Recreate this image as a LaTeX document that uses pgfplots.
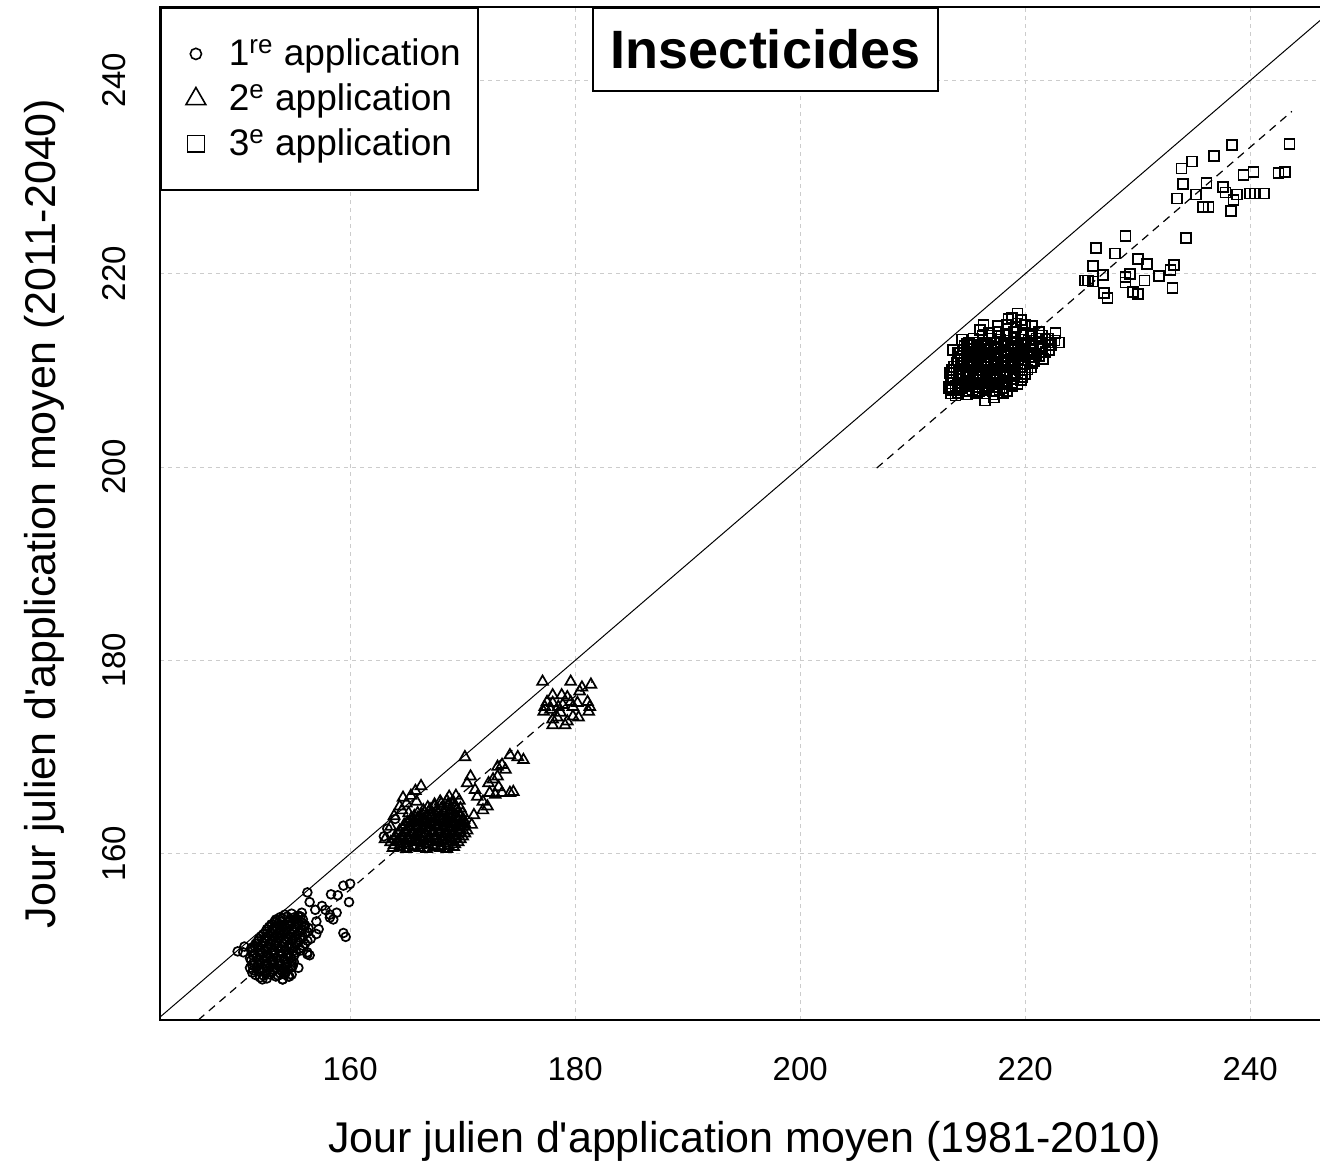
\documentclass[border=0pt]{standalone}
\usepackage{pgfplots}
\pgfplotsset{compat=1.18}
\usepackage{fontspec}
\setmainfont{Liberation Sans}
\begin{document}
\begin{tikzpicture}
\begin{axis}[
 name=ax,
 scale only axis,
 width=580pt, height=506.5pt,
 xmin=143.1, xmax=246.2, ymin=142.8, ymax=247.6,
 axis line style={draw=none},
 xtick={160,180,...,240}, ytick={160,180,...,240},
 major tick length=0pt,
 grid=major,
 major grid style={gray!40, line width=0.6pt, dash pattern=on 2pt off 2pt},
 /pgf/number format/assume math mode=true,
 ticklabel style={font=\fontsize{16.5}{19}\selectfont},
 xticklabel style={yshift=-15pt},
 yticklabel style={rotate=90, anchor=south, inner sep=0pt},
 yticklabel shift=17pt,
 xlabel={Jour julien d\textquotesingle application moyen (1981-2010)},
 ylabel={Jour julien d\textquotesingle application moyen (2011-2040)},
 xlabel style={at={(axis description cs:0.504,-0.131)}, anchor=base, font=\fontsize{21.5}{24}\selectfont},
 ylabel style={at={(axis description cs:-0.0905,0.5)}, anchor=base, font=\fontsize{21.5}{24}\selectfont},
 legend style={at={(rel axis cs:0,1)}, anchor=north west, draw=black, line width=0.9pt, fill=white,
   inner xsep=8.5pt, inner ysep=12pt, row sep=0.5pt,
   font=\fontsize{18.5}{22}\selectfont, cells={anchor=west},
   nodes={inner sep=0pt, text height=17pt, text depth=5pt}},
 legend image code/.code={\path[draw=none,fill=none] (-9pt,0) -- (16.5pt,0); \draw[#1] plot coordinates {(0pt,0pt)};},
]
% 1:1 line and regression lines
\addplot[black, line width=0.5pt, forget plot] coordinates {(143.1,143.1) (247.6,247.6)};
\addplot[black, line width=0.6pt, dash pattern=on 4pt off 3pt, forget plot] coordinates {(146.5,142.8) (181.5,177.8)};
\addplot[black, line width=0.6pt, dash pattern=on 4pt off 3pt, forget plot] coordinates {(206.8,199.9) (243.7,236.8)};

% legend images
\addlegendimage{only marks, mark=o, mark size=2.8pt, line width=0.8pt, black}
\addlegendentry{1\textsuperscript{re} application}
\addlegendimage{only marks, mark=triangle, mark size=5.7pt, line width=0.8pt, black}
\addlegendentry{2\textsuperscript{e} application}
\addlegendimage{only marks, mark=square, mark size=4.2pt, line width=0.8pt, black}
\addlegendentry{3\textsuperscript{e} application}

% 1re application
\addplot[only marks, mark=o, mark size=2.2pt, line width=0.85pt, black, forget plot] coordinates {
(152.0,147.2)(152.6,147.1)(153.4,147.3)(154.0,147.0)(154.6,147.3)
(151.3,147.7)(151.9,147.8)(152.5,147.6)(153.1,147.8)(153.8,147.6)(154.3,147.8)
(151.1,148.2)(151.7,148.3)(152.3,148.1)(152.9,148.3)(153.5,148.2)(154.1,148.1)(154.8,148.3)
(151.4,148.7)(152.0,148.8)(152.6,148.6)(153.2,148.8)(153.8,148.7)(154.4,148.6)(155.0,148.8)
(151.1,149.2)(151.7,149.3)(152.3,149.1)(152.9,149.3)(153.5,149.2)(154.1,149.1)(154.7,149.3)
(151.5,149.7)(152.1,149.8)(152.7,149.6)(153.3,149.8)(153.9,149.7)(154.5,149.6)(155.2,149.8)(156.2,149.6)
(151.2,150.2)(151.8,150.3)(152.4,150.1)(153.0,150.3)(153.6,150.2)(154.2,150.1)(154.8,150.3)(155.5,150.2)
(151.6,150.7)(152.2,150.8)(152.8,150.6)(153.4,150.8)(154.0,150.7)(154.6,150.6)(155.2,150.8)(156.0,150.7)
(151.9,151.2)(152.5,151.3)(153.1,151.1)(153.7,151.3)(154.3,151.2)(154.9,151.1)(155.6,151.3)(156.5,151.2)
(152.3,151.7)(152.9,151.8)(153.5,151.6)(154.1,151.8)(154.7,151.7)(155.3,151.6)(156.0,151.8)(157.0,151.7)
(152.6,152.2)(153.2,152.3)(153.8,152.1)(154.4,152.3)(155.0,152.2)(155.7,152.1)(156.3,152.3)
(153.0,152.7)(153.6,152.8)(154.2,152.6)(154.8,152.8)(155.4,152.7)(156.0,152.6)
(153.4,153.2)(154.0,153.3)(154.6,153.1)(155.2,153.3)(155.8,153.2)
(154.2,153.7)(154.8,153.8)(155.4,153.6)
(151.6,147.45)(152.3,147.4)(152.9,147.5)(153.6,147.4)(154.2,147.5)
(151.4,147.95)(152.0,148.0)(152.6,147.9)(153.2,148.0)(153.9,147.9)(154.5,148.0)
(151.3,148.45)(151.9,148.5)(152.5,148.4)(153.1,148.5)(153.7,148.4)(154.3,148.5)(154.9,148.4)
(151.2,148.95)(151.8,149.0)(152.4,148.9)(153.0,149.0)(153.6,148.9)(154.2,149.0)(154.8,148.9)
(151.4,149.45)(152.0,149.5)(152.6,149.4)(153.2,149.5)(153.8,149.4)(154.4,149.5)(155.0,149.4)
(151.3,149.95)(151.9,150.0)(152.5,149.9)(153.1,150.0)(153.7,149.9)(154.3,150.0)(154.9,149.9)(155.6,150.0)
(151.5,150.45)(152.1,150.5)(152.7,150.4)(153.3,150.5)(153.9,150.4)(154.5,150.5)(155.1,150.4)(155.8,150.5)
(151.8,150.95)(152.4,151.0)(153.0,150.9)(153.6,151.0)(154.2,150.9)(154.8,151.0)(155.4,150.9)(156.2,151.0)
(152.1,151.45)(152.7,151.5)(153.3,151.4)(153.9,151.5)(154.5,151.4)(155.1,151.5)(155.8,151.4)
(152.5,151.95)(153.1,152.0)(153.7,151.9)(154.3,152.0)(154.9,151.9)(155.5,152.0)(156.2,151.9)
(152.8,152.45)(153.4,152.5)(154.0,152.4)(154.6,152.5)(155.2,152.4)(155.9,152.5)
(153.3,152.95)(153.9,153.0)(154.5,152.9)(155.1,153.0)(155.7,152.9)
(153.8,153.45)(154.4,153.5)(155.0,153.4)(155.6,153.5)
(156.2,156.0)(159.4,156.7)(160.0,156.9)(158.3,155.8)(158.9,155.7)(159.9,155.0)(156.4,155.0)
(156.9,154.2)(157.8,154.2)(158.2,153.7)(158.8,153.9)(158.5,153.2)(158.2,153.4)(157.2,152.2)
(159.4,151.8)(159.6,151.4)(155.7,153.9)(155.4,153.5)(153.3,153.0)(156.2,149.8)(156.4,149.5)
(151.3,150.3)(152.2,147.0)(154.0,147.0)(154.5,147.3)(154.8,147.5)(155.4,148.2)(150.0,149.9)
(150.5,149.8)(150.6,150.4)(157.5,154.6)(157.0,153.0)
(163.0,161.8)(163.3,162.6)(164.0,163.6)
};

% 2e application
\addplot[only marks, mark=triangle, mark size=3.1pt, line width=0.85pt, black, forget plot] coordinates {
(163.8,160.6)(164.4,160.7)(165.0,160.5)(165.6,160.7)(166.2,160.6)(166.8,160.5)(167.4,160.7)(168.0,160.6)(168.6,160.5)(169.2,160.7)
(163.6,161.2)(164.2,161.3)(164.8,161.1)(165.4,161.3)(166.0,161.2)(166.6,161.1)(167.2,161.3)(167.8,161.2)(168.4,161.1)(169.0,161.3)(169.6,161.2)
(164.0,161.8)(164.6,161.9)(165.2,161.7)(165.8,161.9)(166.4,161.8)(167.0,161.7)(167.6,161.9)(168.2,161.8)(168.8,161.7)(169.4,161.9)(170.0,161.8)
(164.4,162.4)(165.0,162.5)(165.6,162.3)(166.2,162.5)(166.8,162.4)(167.4,162.3)(168.0,162.5)(168.6,162.4)(169.2,162.3)(169.8,162.5)(170.4,162.4)
(164.8,163.0)(165.4,163.1)(166.0,162.9)(166.6,163.1)(167.2,163.0)(167.8,162.9)(168.4,163.1)(169.0,163.0)(169.6,162.9)(170.2,163.1)
(165.4,163.6)(166.0,163.7)(166.6,163.5)(167.2,163.7)(167.8,163.6)(168.4,163.5)(169.0,163.7)(169.6,163.6)(170.1,163.5)
(166.0,164.2)(166.6,164.3)(167.2,164.1)(167.8,164.3)(168.4,164.2)(169.0,164.1)(169.6,164.3)(170.0,164.2)
(166.9,164.8)(167.5,164.9)(168.1,164.7)(168.7,164.9)(169.3,164.8)(169.8,164.7)
(168.0,165.4)(168.6,165.5)(169.2,165.3)(169.7,165.5)
(168.8,165.9)(169.4,166.0)
(163.9,160.9)(164.5,161.0)(165.1,160.9)(165.7,160.8)(166.3,160.9)(166.9,161.0)(167.5,160.9)(168.1,160.8)(168.7,160.9)(169.3,161.0)
(163.9,161.5)(164.5,161.6)(165.1,161.5)(165.7,161.4)(166.3,161.5)(166.9,161.6)(167.5,161.5)(168.1,161.4)(168.7,161.5)(169.3,161.6)(169.8,161.5)
(164.3,162.1)(164.9,162.2)(165.5,162.1)(166.1,162.0)(166.7,162.1)(167.3,162.2)(167.9,162.1)(168.5,162.0)(169.1,162.1)(169.7,162.2)(170.2,162.1)
(164.7,162.7)(165.3,162.8)(165.9,162.7)(166.5,162.6)(167.1,162.7)(167.7,162.8)(168.3,162.7)(168.9,162.6)(169.5,162.7)(170.1,162.8)
(165.1,163.3)(165.7,163.4)(166.3,163.3)(166.9,163.2)(167.5,163.3)(168.1,163.4)(168.7,163.3)(169.3,163.2)(169.9,163.3)
(165.7,163.9)(166.3,164.0)(166.9,163.9)(167.5,163.8)(168.1,163.9)(168.7,164.0)(169.3,163.9)(169.8,163.8)
(166.5,164.5)(167.1,164.6)(167.7,164.5)(168.3,164.4)(168.9,164.5)(169.5,164.6)
(167.5,165.1)(168.1,165.2)(168.7,165.1)(169.3,165.0)
(164.6,164.5)(165.0,165.2)(165.4,166.0)(165.8,166.5)(165.2,164.2)(165.9,165.4)(164.7,165.8)(166.3,167.0)
(163.6,162.8)(163.9,163.9)(164.4,164.9)(163.1,161.5)
(170.2,170.0)(170.7,168.0)(170.4,167.3)(171.1,166.6)(171.3,165.9)(171.8,165.4)(172.3,167.3)(172.7,167.7)
(173.1,168.0)(173.2,166.9)(173.5,166.3)(174.2,166.3)(174.5,166.4)(173.1,169.0)(173.5,169.2)(173.8,168.7)
(174.2,170.2)(174.9,170.0)(175.4,169.7)(172.4,166.3)(172.9,166.1)(172.2,164.9)(171.8,164.5)(170.8,163.0)(171.0,164.0)
(177.1,177.8)(179.6,177.8)(180.6,177.2)(181.4,177.5)(180.4,176.8)(178.0,176.4)(178.8,176.4)(179.3,176.2)
(177.5,175.7)(177.3,175.2)(178.0,175.6)(178.5,175.2)(178.9,175.4)(179.6,175.7)(179.8,175.2)(180.2,175.6)
(181.1,175.7)(181.3,175.2)(181.2,174.7)(177.2,174.7)(177.8,174.9)(178.7,174.6)(179.3,173.7)(178.4,174.1)
(178.0,173.9)(178.0,173.3)(179.1,173.3)(179.8,174.2)(180.3,174.1)
};

% 3e application
\addplot[only marks, mark=square, mark size=2.5pt, line width=0.85pt, black, forget plot] coordinates {
(213.4,207.6)(214.0,207.7)(214.8,207.5)(215.6,207.7)(216.4,207.6)(217.2,207.5)(218.0,207.7)
(213.2,208.3)(213.8,208.4)(214.4,208.2)(215.0,208.4)(215.6,208.3)(216.2,208.2)(216.8,208.4)(217.4,208.3)(218.0,208.2)(218.8,208.4)
(213.5,209.0)(214.1,209.1)(214.7,208.9)(215.3,209.1)(215.9,209.0)(216.5,208.9)(217.1,209.1)(217.7,209.0)(218.3,208.9)(218.9,209.1)(219.6,209.0)
(213.3,209.7)(213.9,209.8)(214.5,209.6)(215.1,209.8)(215.7,209.7)(216.3,209.6)(216.9,209.8)(217.5,209.7)(218.1,209.6)(218.7,209.8)(219.3,209.7)(220.0,209.6)
(213.7,210.4)(214.3,210.5)(214.9,210.3)(215.5,210.5)(216.1,210.4)(216.7,210.3)(217.3,210.5)(217.9,210.4)(218.5,210.3)(219.1,210.5)(219.7,210.4)(220.5,210.3)
(214.0,211.1)(214.6,211.2)(215.2,211.0)(215.8,211.2)(216.4,211.1)(217.0,211.0)(217.6,211.2)(218.2,211.1)(218.8,211.0)(219.4,211.2)(220.0,211.1)(220.8,211.0)(221.6,211.2)
(214.2,211.8)(214.8,211.9)(215.4,211.7)(216.0,211.9)(216.6,211.8)(217.2,211.7)(217.8,211.9)(218.4,211.8)(219.0,211.7)(219.6,211.9)(220.2,211.8)(221.0,211.7)(221.8,211.9)
(214.6,212.5)(215.2,212.6)(215.8,212.4)(216.4,212.6)(217.0,212.5)(217.6,212.4)(218.2,212.6)(218.8,212.5)(219.4,212.4)(220.0,212.6)(220.7,212.5)(221.5,212.4)(222.3,212.6)
(214.4,213.2)(215.4,213.3)(216.2,213.1)(217.0,213.3)(217.8,213.2)(218.4,213.1)(219.0,213.3)(219.6,213.2)(220.3,213.1)(221.0,213.3)(221.8,213.2)(222.6,213.1)
(216.8,213.9)(217.6,214.0)(218.3,213.8)(219.0,214.0)(219.8,213.9)(220.5,213.8)(221.2,214.0)
(217.6,214.6)(218.4,214.7)(219.2,214.5)(220.0,214.7)(220.6,214.6)
(218.5,215.3)(219.6,215.2)
(213.5,207.95)(214.1,208.0)(214.7,207.9)(215.3,208.0)(215.9,207.9)(216.5,208.0)(217.1,207.9)(217.7,208.0)(218.4,207.9)
(213.4,208.65)(214.0,208.7)(214.6,208.6)(215.2,208.7)(215.8,208.6)(216.4,208.7)(217.0,208.6)(217.6,208.7)(218.2,208.6)(218.8,208.7)(219.3,208.6)
(213.6,209.35)(214.2,209.4)(214.8,209.3)(215.4,209.4)(216.0,209.3)(216.6,209.4)(217.2,209.3)(217.8,209.4)(218.4,209.3)(219.0,209.4)(219.7,209.3)
(213.5,210.05)(214.1,210.1)(214.7,210.0)(215.3,210.1)(215.9,210.0)(216.5,210.1)(217.1,210.0)(217.7,210.1)(218.3,210.0)(218.9,210.1)(219.5,210.0)(220.2,210.1)
(213.9,210.75)(214.5,210.8)(215.1,210.7)(215.7,210.8)(216.3,210.7)(216.9,210.8)(217.5,210.7)(218.1,210.8)(218.7,210.7)(219.3,210.8)(219.9,210.7)(220.6,210.8)
(214.3,211.45)(214.9,211.5)(215.5,211.4)(216.1,211.5)(216.7,211.4)(217.3,211.5)(217.9,211.4)(218.5,211.5)(219.1,211.4)(219.7,211.5)(220.4,211.4)(221.2,211.5)
(214.5,212.15)(215.1,212.2)(215.7,212.1)(216.3,212.2)(216.9,212.1)(217.5,212.2)(218.1,212.1)(218.7,212.2)(219.3,212.1)(219.9,212.2)(220.6,212.1)(221.4,212.2)(222.1,212.1)
(215.0,212.85)(215.7,212.9)(216.3,212.8)(216.9,212.9)(217.5,212.8)(218.1,212.9)(218.7,212.8)(219.3,212.9)(219.9,212.8)(220.6,212.9)(221.3,212.8)(222.0,212.9)
(216.2,213.55)(217.0,213.6)(217.7,213.5)(218.4,213.6)(219.1,213.5)(219.8,213.6)(220.6,213.5)(221.5,213.6)
(216.4,206.9)(217.2,207.2)(215.7,207.8)(213.2,208.2)(213.8,207.4)(219.3,215.9)(218.8,215.4)
(222.7,213.9)(222.0,213.3)(223.0,212.9)(213.6,212.1)(214.0,211.8)(214.0,211.1)(216.0,214.2)(216.3,214.7)(214.8,212.8)
(238.4,233.3)(243.5,233.4)(236.8,232.2)(234.8,231.6)(233.9,230.9)(240.3,230.5)(239.4,230.2)(242.5,230.4)
(243.1,230.5)(234.0,229.3)(236.1,229.4)(237.6,229.0)(237.8,228.4)(235.2,228.2)(233.5,227.8)(238.8,228.2)
(238.5,227.6)(240.0,228.3)(240.4,228.3)(241.2,228.3)(235.8,226.9)(236.3,226.9)(238.3,226.5)(234.3,223.7)
(228.9,223.9)(226.3,222.7)(228.0,222.1)(230.0,221.5)(230.8,221.0)(226.0,220.8)(226.9,219.9)(229.3,220.0)
(228.9,219.7)(225.6,219.3)(226.0,219.2)(225.3,219.3)(233.2,220.9)(232.9,220.4)(231.9,219.8)(230.6,219.3)
(228.9,219.1)(229.6,218.1)(230.0,217.9)(227.0,218.0)(227.3,217.5)(233.1,218.5)
};
\end{axis}
\draw[black, line width=1pt] (ax.north east) -- (ax.north west) -- (ax.south west) -- (ax.south east);
\node[draw=black, line width=0.9pt, fill=white, anchor=north, minimum width=172.5pt, minimum height=41.5pt, inner sep=0pt,
  font=\fontsize{27}{30}\selectfont\bfseries] at ([xshift=302.75pt]ax.north west) {Insecticides};
\pgfresetboundingbox
\path[use as bounding box] ([xshift=-80pt,yshift=-70.5pt]ax.south west) rectangle ([yshift=3.5pt]ax.north east);
\end{tikzpicture}
\end{document}
